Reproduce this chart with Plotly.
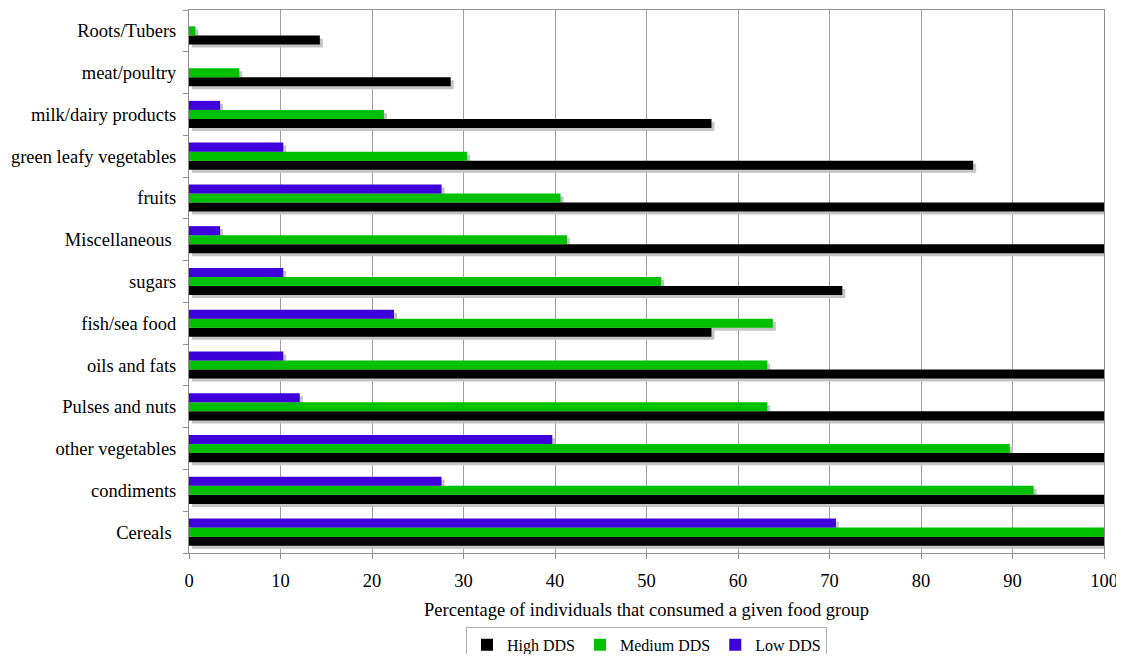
import plotly.graph_objects as go

categories = ["Cereals\u00a0", "condiments", "other vegetables", "Pulses and nuts",
              "oils and fats", "fish/sea food", "sugars", "Miscellaneous\u00a0",
              "fruits", "green leafy vegetables", "milk/dairy products",
              "meat/poultry", "Roots/Tubers"]
high_dds = [100, 100, 100, 100, 100, 57.1, 71.4, 100, 100, 85.7, 57.1, 28.6, 14.3]
medium_dds = [100, 92.3, 89.7, 63.2, 63.2, 63.8, 51.6, 41.3, 40.6, 30.4, 21.3, 5.5, 0.7]
low_dds = [70.7, 27.6, 39.7, 12.1, 10.3, 22.4, 10.3, 3.4, 27.6, 10.3, 3.4, 0, 0]
x_ticks = [0, 10, 20, 30, 40, 50, 60, 70, 80, 90, 100]

series = [("High DDS", high_dds, "#000000"),
          ("Medium DDS", medium_dds, "#00c000"),
          ("Low DDS", low_dds, "#3e00da")]

FONT = "Liberation Serif"
fig = go.Figure()

# shadows on the base axes (shifted a few pixels right/down)
for name, vals, col in series:
    fig.add_trace(go.Bar(y=categories, x=vals, orientation="h", name=name,
                         marker=dict(color="#c4c4c4", line=dict(width=0)),
                         showlegend=False, hoverinfo="skip",
                         xaxis="x", yaxis="y"))
# real bars on the overlay axes
for name, vals, col in series:
    fig.add_trace(go.Bar(y=categories, x=vals, orientation="h", name=name,
                         marker=dict(color=col, line=dict(width=0)),
                         xaxis="x2", yaxis="y2"))

W, H = 1116, 646
L, T = 181, 2
plot_w = 915
plot_h = 543
dx = 3 * 100 / plot_w
dy = 3 * 13 / plot_h

fig.update_layout(
    width=W, height=H,
    margin=dict(l=L, r=W - L - plot_w, t=T, b=H - T - plot_h, autoexpand=False),
    paper_bgcolor="white", plot_bgcolor="white",
    barmode="group", bargap=0.35, bargroupgap=0,
    font=dict(family=FONT, size=18, color="black"),
    xaxis=dict(range=[0 - dx, 100 - dx], showgrid=False, showticklabels=False,
               ticks="", showline=False, zeroline=False, fixedrange=True),
    yaxis=dict(type="category", categoryorder="array", categoryarray=categories,
               range=[-0.5 + dy, 12.5 + dy], showgrid=False, showticklabels=False,
               ticks="", showline=False, zeroline=False),
    xaxis2=dict(overlaying="x", range=[0, 100], tickvals=x_ticks,
                showgrid=True, gridcolor="#a0a0a0", gridwidth=1,
                showline=True, linecolor="#909090", linewidth=1, mirror=True,
                ticks="outside", ticklen=5, tickcolor="#909090",
                ticklabelstandoff=6, automargin=False,
                zeroline=False, tickfont=dict(size=18.5),
                title=dict(text="Percentage of individuals that consumed a given food group",
                           font=dict(size=18.5), standoff=12)),
    yaxis2=dict(overlaying="y", type="category", categoryorder="array",
                categoryarray=categories, range=[-0.5, 12.5],
                showgrid=False, showline=True, linecolor="#909090", linewidth=1,
                mirror=True, ticks="outside", ticklen=5, tickcolor="#909090",
                tickson="boundaries", tickfont=dict(size=18.5), zeroline=False,
                ticklabelstandoff=8, automargin=False),
    legend=dict(orientation="h", x=0.5, xanchor="center", y=-0.136, yanchor="top",
                bordercolor="#b0b0b0", borderwidth=1, font=dict(size=16),
                traceorder="normal", itemwidth=30, tracegroupgap=0),
)

fig.write_html("out.html")
